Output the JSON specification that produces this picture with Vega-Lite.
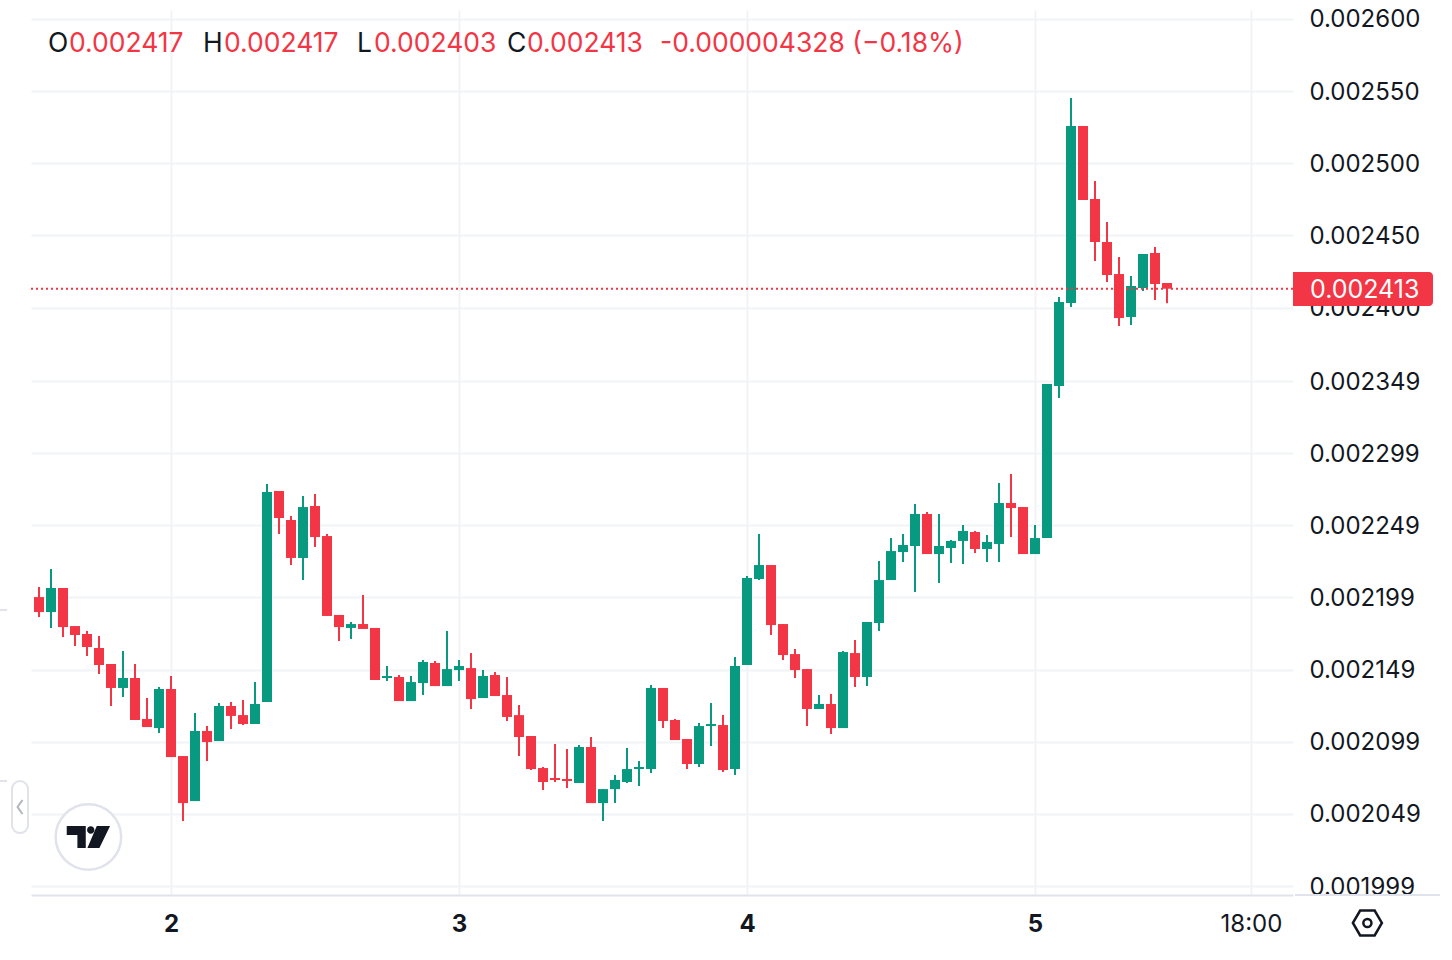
{
  "$schema": "https://vega.github.io/schema/vega-lite/v6.json",
  "width": 1262,
  "height": 885,
  "padding": {"left": 31, "top": 10, "right": 159, "bottom": 65},
  "autosize": "none",
  "background": "#ffffff",
  "config": {"font": "Inter", "view": {"stroke": null}},
  "datasets": {
    "candles": [
      {"t":"2024-05-01T13:00:00Z","o":0.0021993,"h":0.0022063,"l":0.0021855,"c":0.0021889},
      {"t":"2024-05-01T14:00:00Z","o":0.0021889,"h":0.0022187,"l":0.0021779,"c":0.0022056},
      {"t":"2024-05-01T15:00:00Z","o":0.0022056,"h":0.0022056,"l":0.0021716,"c":0.0021785},
      {"t":"2024-05-01T16:00:00Z","o":0.0021792,"h":0.0021792,"l":0.0021654,"c":0.0021730},
      {"t":"2024-05-01T17:00:00Z","o":0.0021737,"h":0.0021758,"l":0.0021584,"c":0.0021647},
      {"t":"2024-05-01T18:00:00Z","o":0.0021640,"h":0.0021723,"l":0.0021460,"c":0.0021522},
      {"t":"2024-05-01T19:00:00Z","o":0.0021529,"h":0.0021529,"l":0.0021238,"c":0.0021363},
      {"t":"2024-05-01T20:00:00Z","o":0.0021363,"h":0.0021619,"l":0.0021300,"c":0.0021432},
      {"t":"2024-05-01T21:00:00Z","o":0.0021432,"h":0.0021529,"l":0.0021141,"c":0.0021141},
      {"t":"2024-05-01T22:00:00Z","o":0.0021148,"h":0.0021293,"l":0.0021092,"c":0.0021092},
      {"t":"2024-05-01T23:00:00Z","o":0.0021085,"h":0.0021370,"l":0.0021051,"c":0.0021356},
      {"t":"2024-05-02T00:00:00Z","o":0.0021356,"h":0.0021446,"l":0.0020884,"c":0.0020884},
      {"t":"2024-05-02T01:00:00Z","o":0.0020891,"h":0.0020891,"l":0.0020441,"c":0.0020565},
      {"t":"2024-05-02T02:00:00Z","o":0.0020579,"h":0.0021189,"l":0.0020579,"c":0.0021065},
      {"t":"2024-05-02T03:00:00Z","o":0.0021065,"h":0.0021099,"l":0.0020857,"c":0.0020988},
      {"t":"2024-05-02T04:00:00Z","o":0.0020995,"h":0.0021259,"l":0.0020995,"c":0.0021238},
      {"t":"2024-05-02T05:00:00Z","o":0.0021238,"h":0.0021266,"l":0.0021078,"c":0.0021169},
      {"t":"2024-05-02T06:00:00Z","o":0.0021175,"h":0.0021279,"l":0.0021106,"c":0.0021113},
      {"t":"2024-05-02T07:00:00Z","o":0.0021113,"h":0.0021404,"l":0.0021113,"c":0.0021252},
      {"t":"2024-05-02T08:00:00Z","o":0.0021266,"h":0.0022777,"l":0.0021266,"c":0.0022721},
      {"t":"2024-05-02T09:00:00Z","o":0.0022728,"h":0.0022728,"l":0.0022430,"c":0.0022541},
      {"t":"2024-05-02T10:00:00Z","o":0.0022527,"h":0.0022555,"l":0.0022215,"c":0.0022264},
      {"t":"2024-05-02T11:00:00Z","o":0.0022264,"h":0.0022694,"l":0.0022111,"c":0.0022617},
      {"t":"2024-05-02T12:00:00Z","o":0.0022624,"h":0.0022707,"l":0.0022340,"c":0.0022409},
      {"t":"2024-05-02T13:00:00Z","o":0.0022416,"h":0.0022430,"l":0.0021862,"c":0.0021862},
      {"t":"2024-05-02T14:00:00Z","o":0.0021869,"h":0.0021869,"l":0.0021688,"c":0.0021785},
      {"t":"2024-05-02T15:00:00Z","o":0.0021779,"h":0.0021820,"l":0.0021702,"c":0.0021806},
      {"t":"2024-05-02T16:00:00Z","o":0.0021806,"h":0.0022007,"l":0.0021772,"c":0.0021772},
      {"t":"2024-05-02T17:00:00Z","o":0.0021779,"h":0.0021779,"l":0.0021418,"c":0.0021418},
      {"t":"2024-05-02T18:00:00Z","o":0.0021432,"h":0.0021515,"l":0.0021411,"c":0.0021446},
      {"t":"2024-05-02T19:00:00Z","o":0.0021439,"h":0.0021453,"l":0.0021272,"c":0.0021272},
      {"t":"2024-05-02T20:00:00Z","o":0.0021272,"h":0.0021446,"l":0.0021272,"c":0.0021404},
      {"t":"2024-05-02T21:00:00Z","o":0.0021397,"h":0.0021557,"l":0.0021314,"c":0.0021543},
      {"t":"2024-05-02T22:00:00Z","o":0.0021536,"h":0.0021550,"l":0.0021376,"c":0.0021376},
      {"t":"2024-05-02T23:00:00Z","o":0.0021376,"h":0.0021758,"l":0.0021376,"c":0.0021494},
      {"t":"2024-05-03T00:00:00Z","o":0.0021487,"h":0.0021557,"l":0.0021411,"c":0.0021515},
      {"t":"2024-05-03T01:00:00Z","o":0.0021501,"h":0.0021605,"l":0.0021217,"c":0.0021286},
      {"t":"2024-05-03T02:00:00Z","o":0.0021293,"h":0.0021487,"l":0.0021293,"c":0.0021446},
      {"t":"2024-05-03T03:00:00Z","o":0.0021453,"h":0.0021474,"l":0.0021307,"c":0.0021307},
      {"t":"2024-05-03T04:00:00Z","o":0.0021314,"h":0.0021439,"l":0.0021134,"c":0.0021162},
      {"t":"2024-05-03T05:00:00Z","o":0.0021175,"h":0.0021245,"l":0.0020891,"c":0.0021023},
      {"t":"2024-05-03T06:00:00Z","o":0.0021030,"h":0.0021030,"l":0.0020794,"c":0.0020801},
      {"t":"2024-05-03T07:00:00Z","o":0.0020808,"h":0.0020815,"l":0.0020656,"c":0.0020711},
      {"t":"2024-05-03T08:00:00Z","o":0.0020739,"h":0.0020974,"l":0.0020711,"c":0.0020725},
      {"t":"2024-05-03T09:00:00Z","o":0.0020732,"h":0.0020940,"l":0.0020669,"c":0.0020718},
      {"t":"2024-05-03T10:00:00Z","o":0.0020704,"h":0.0020967,"l":0.0020704,"c":0.0020954},
      {"t":"2024-05-03T11:00:00Z","o":0.0020954,"h":0.0021023,"l":0.0020565,"c":0.0020565},
      {"t":"2024-05-03T12:00:00Z","o":0.0020565,"h":0.0020662,"l":0.0020441,"c":0.0020662},
      {"t":"2024-05-03T13:00:00Z","o":0.0020662,"h":0.0020760,"l":0.0020565,"c":0.0020725},
      {"t":"2024-05-03T14:00:00Z","o":0.0020711,"h":0.0020947,"l":0.0020704,"c":0.0020801},
      {"t":"2024-05-03T15:00:00Z","o":0.0020801,"h":0.0020857,"l":0.0020683,"c":0.0020815},
      {"t":"2024-05-03T16:00:00Z","o":0.0020801,"h":0.0021383,"l":0.0020773,"c":0.0021363},
      {"t":"2024-05-03T17:00:00Z","o":0.0021363,"h":0.0021363,"l":0.0021085,"c":0.0021134},
      {"t":"2024-05-03T18:00:00Z","o":0.0021141,"h":0.0021148,"l":0.0021002,"c":0.0021002},
      {"t":"2024-05-03T19:00:00Z","o":0.0021009,"h":0.0021009,"l":0.0020801,"c":0.0020836},
      {"t":"2024-05-03T20:00:00Z","o":0.0020836,"h":0.0021120,"l":0.0020815,"c":0.0021099},
      {"t":"2024-05-03T21:00:00Z","o":0.0021099,"h":0.0021259,"l":0.0020961,"c":0.0021113},
      {"t":"2024-05-03T22:00:00Z","o":0.0021106,"h":0.0021175,"l":0.0020780,"c":0.0020794},
      {"t":"2024-05-03T23:00:00Z","o":0.0020801,"h":0.0021577,"l":0.0020760,"c":0.0021515},
      {"t":"2024-05-04T00:00:00Z","o":0.0021522,"h":0.0022139,"l":0.0021522,"c":0.0022125},
      {"t":"2024-05-04T01:00:00Z","o":0.0022118,"h":0.0022430,"l":0.0022111,"c":0.0022215},
      {"t":"2024-05-04T02:00:00Z","o":0.0022215,"h":0.0022215,"l":0.0021730,"c":0.0021799},
      {"t":"2024-05-04T03:00:00Z","o":0.0021806,"h":0.0021806,"l":0.0021557,"c":0.0021591},
      {"t":"2024-05-04T04:00:00Z","o":0.0021598,"h":0.0021633,"l":0.0021432,"c":0.0021487},
      {"t":"2024-05-04T05:00:00Z","o":0.0021494,"h":0.0021494,"l":0.0021099,"c":0.0021217},
      {"t":"2024-05-04T06:00:00Z","o":0.0021217,"h":0.0021314,"l":0.0021217,"c":0.0021252},
      {"t":"2024-05-04T07:00:00Z","o":0.0021252,"h":0.0021321,"l":0.0021044,"c":0.0021085},
      {"t":"2024-05-04T08:00:00Z","o":0.0021085,"h":0.0021619,"l":0.0021085,"c":0.0021612},
      {"t":"2024-05-04T09:00:00Z","o":0.0021605,"h":0.0021695,"l":0.0021370,"c":0.0021439},
      {"t":"2024-05-04T10:00:00Z","o":0.0021439,"h":0.0021820,"l":0.0021376,"c":0.0021820},
      {"t":"2024-05-04T11:00:00Z","o":0.0021813,"h":0.0022243,"l":0.0021758,"c":0.0022111},
      {"t":"2024-05-04T12:00:00Z","o":0.0022111,"h":0.0022402,"l":0.0022111,"c":0.0022312},
      {"t":"2024-05-04T13:00:00Z","o":0.0022305,"h":0.0022430,"l":0.0022236,"c":0.0022354},
      {"t":"2024-05-04T14:00:00Z","o":0.0022347,"h":0.0022638,"l":0.0022028,"c":0.0022569},
      {"t":"2024-05-04T15:00:00Z","o":0.0022569,"h":0.0022583,"l":0.0022291,"c":0.0022291},
      {"t":"2024-05-04T16:00:00Z","o":0.0022291,"h":0.0022569,"l":0.0022090,"c":0.0022347},
      {"t":"2024-05-04T17:00:00Z","o":0.0022333,"h":0.0022389,"l":0.0022229,"c":0.0022382},
      {"t":"2024-05-04T18:00:00Z","o":0.0022382,"h":0.0022493,"l":0.0022222,"c":0.0022451},
      {"t":"2024-05-04T19:00:00Z","o":0.0022444,"h":0.0022451,"l":0.0022298,"c":0.0022326},
      {"t":"2024-05-04T20:00:00Z","o":0.0022326,"h":0.0022423,"l":0.0022236,"c":0.0022375},
      {"t":"2024-05-04T21:00:00Z","o":0.0022361,"h":0.0022784,"l":0.0022236,"c":0.0022645},
      {"t":"2024-05-04T22:00:00Z","o":0.0022645,"h":0.0022846,"l":0.0022409,"c":0.0022610},
      {"t":"2024-05-04T23:00:00Z","o":0.0022617,"h":0.0022617,"l":0.0022291,"c":0.0022291},
      {"t":"2024-05-05T00:00:00Z","o":0.0022291,"h":0.0022493,"l":0.0022291,"c":0.0022402},
      {"t":"2024-05-05T01:00:00Z","o":0.0022402,"h":0.0023470,"l":0.0022402,"c":0.0023470},
      {"t":"2024-05-05T02:00:00Z","o":0.0023456,"h":0.0024073,"l":0.0023373,"c":0.0024038},
      {"t":"2024-05-05T03:00:00Z","o":0.0024031,"h":0.0025452,"l":0.0024004,"c":0.0025258},
      {"t":"2024-05-05T04:00:00Z","o":0.0025258,"h":0.0025258,"l":0.0024745,"c":0.0024745},
      {"t":"2024-05-05T05:00:00Z","o":0.0024752,"h":0.0024877,"l":0.0024323,"c":0.0024454},
      {"t":"2024-05-05T06:00:00Z","o":0.0024454,"h":0.0024593,"l":0.0024177,"c":0.0024225},
      {"t":"2024-05-05T07:00:00Z","o":0.0024232,"h":0.0024350,"l":0.0023872,"c":0.0023927},
      {"t":"2024-05-05T08:00:00Z","o":0.0023934,"h":0.0024219,"l":0.0023879,"c":0.0024149},
      {"t":"2024-05-05T09:00:00Z","o":0.0024135,"h":0.0024371,"l":0.0024115,"c":0.0024371},
      {"t":"2024-05-05T10:00:00Z","o":0.0024378,"h":0.0024420,"l":0.0024052,"c":0.0024163},
      {"t":"2024-05-05T11:00:00Z","o":0.002417,"h":0.002417,"l":0.002403,"c":0.002413}
    ],
    "header": [
      {"t":"2024-05-01T13:45:00Z","p":0.0025834,"label":"O","color":"#131722"},
      {"t":"2024-05-01T15:30:00Z","p":0.0025834,"label":"0.002417","color":"#f23645"},
      {"t":"2024-05-02T02:40:00Z","p":0.0025834,"label":"H","color":"#131722"},
      {"t":"2024-05-02T04:25:00Z","p":0.0025834,"label":"0.002417","color":"#f23645"},
      {"t":"2024-05-02T15:30:00Z","p":0.0025834,"label":"L","color":"#131722"},
      {"t":"2024-05-02T16:55:00Z","p":0.0025834,"label":"0.002403","color":"#f23645"},
      {"t":"2024-05-03T04:00:00Z","p":0.0025834,"label":"C","color":"#131722"},
      {"t":"2024-05-03T05:40:00Z","p":0.0025834,"label":"0.002413","color":"#f23645"},
      {"t":"2024-05-03T16:45:00Z","p":0.0025834,"label":"-0.000004328 (−0.18%)","color":"#f23645"}
    ]
  },
  "layer": [
    {
      "data": {"name": "candles"},
      "mark": {"type": "rule", "strokeWidth": 2},
      "encoding": {
        "x": {
          "field": "t",
          "type": "temporal",
          "scale": {"type": "utc", "padding": 0, "domain": ["2024-05-01T12:20:00Z", "2024-05-05T21:30:00Z"]},
          "axis": {
            "title": null,
            "values": [1714608000000, 1714694400000, 1714780800000, 1714867200000, 1714932000000],
            "labelExpr": "utchours(datum.value) == 0 ? utcdate(datum.value) + '' : '18:00'",
            "labelFontWeight": {"condition": {"test": "utchours(datum.value) == 0", "value": 700}, "value": 400},
            "labelFontSize": 24,
            "labelColor": "#131722",
            "labelPadding": 17,
            "labelOverlap": false,
            "labelFlush": false,
            "ticks": false,
            "grid": true,
            "gridColor": "#f2f3f5",
            "gridWidth": 2,
            "domainColor": "#e0e3eb",
            "domainWidth": 2
          }
        },
        "y": {
          "field": "l",
          "type": "quantitative",
          "scale": {"domain": [0.0019928, 0.0026062], "nice": false, "zero": false},
          "axis": {
            "title": null,
            "orient": "right",
            "values": [0.0026, 0.00255, 0.0025, 0.00245, 0.0024, 0.002349, 0.002299, 0.002249, 0.002199, 0.002149, 0.002099, 0.002049, 0.001999],
            "format": ".6f",
            "labelFontSize": 24,
            "labelColor": "#131722",
            "labelPadding": 16,
            "labelOffset": 1,
            "labelAlign": "left",
            "labelOverlap": false,
            "labelBound": false,
            "ticks": false,
            "domain": false,
            "grid": true,
            "gridColor": "#f2f3f5",
            "gridWidth": 2
          }
        },
        "y2": {"field": "h"},
        "color": {"condition": {"test": "datum.c >= datum.o", "value": "#089981"}, "value": "#f23645"}
      }
    },
    {
      "data": {"name": "candles"},
      "mark": {"type": "bar", "size": 10},
      "encoding": {
        "x": {"field": "t", "type": "temporal"},
        "y": {"field": "o", "type": "quantitative"},
        "y2": {"field": "c"},
        "color": {"condition": {"test": "datum.c >= datum.o", "value": "#089981"}, "value": "#f23645"}
      }
    },
    {
      "data": {"values": [{"p": 0.002413}]},
      "mark": {"type": "rule", "color": "#f23645", "strokeWidth": 2, "strokeDash": [2, 3]},
      "encoding": {"y": {"field": "p", "type": "quantitative"}}
    },
    {
      "data": {"values": [
        {"t": "2024-05-05T21:40:00Z", "t2": "2024-05-06T09:45:00Z", "p": 0.0019928},
        {"t": "2024-05-01T09:45:00Z", "t2": "2024-05-01T10:20:00Z", "p": 0.0021903},
        {"t": "2024-05-01T09:45:00Z", "t2": "2024-05-01T10:20:00Z", "p": 0.0020718}
      ]},
      "mark": {"type": "rule", "color": "#e0e3eb", "strokeWidth": 2},
      "encoding": {
        "x": {"field": "t", "type": "temporal"},
        "x2": {"field": "t2"},
        "y": {"field": "p", "type": "quantitative"}
      }
    },
    {
      "data": {"values": [{"t": "2024-05-05T21:30:00Z", "t2": "2024-05-06T09:10:00Z", "p": 0.0024246, "p2": 0.0024011}]},
      "mark": {"type": "rect", "color": "#f23645", "cornerRadiusTopRight": 4, "cornerRadiusBottomRight": 4},
      "encoding": {
        "x": {"field": "t", "type": "temporal"},
        "x2": {"field": "t2"},
        "y": {"field": "p", "type": "quantitative"},
        "y2": {"field": "p2"}
      }
    },
    {
      "data": {"values": [{"t": "2024-05-05T22:55:00Z", "p": 0.002413, "label": "0.002413"}]},
      "mark": {"type": "text", "align": "left", "baseline": "middle", "fontSize": 25, "dy": 1.5, "color": "#ffffff"},
      "encoding": {
        "x": {"field": "t", "type": "temporal"},
        "y": {"field": "p", "type": "quantitative"},
        "text": {"field": "label"}
      }
    },
    {
      "data": {"name": "header"},
      "mark": {"type": "text", "align": "left", "baseline": "middle", "fontSize": 26.5, "dy": 1.5},
      "encoding": {
        "x": {"field": "t", "type": "temporal"},
        "y": {"field": "p", "type": "quantitative"},
        "text": {"field": "label"},
        "color": {"field": "color", "type": "nominal", "scale": null}
      }
    },
    {
      "data": {"values": [{"t": "2024-05-01T10:45:00Z", "t2": "2024-05-01T12:05:00Z", "p": 0.0020718, "p2": 0.0020357}]},
      "mark": {"type": "rect", "fill": "#ffffff", "stroke": "#e0e3eb", "strokeWidth": 2, "cornerRadius": 8},
      "encoding": {
        "x": {"field": "t", "type": "temporal"},
        "x2": {"field": "t2"},
        "y": {"field": "p", "type": "quantitative"},
        "y2": {"field": "p2"}
      }
    },
    {
      "data": {"values": [{"t": "2024-05-01T11:25:00Z", "p": 0.0020538}]},
      "mark": {"type": "point", "shape": "M0.35 -1L-0.35 0L0.35 1", "size": 196, "filled": false, "stroke": "#b2b5be", "strokeWidth": 2, "opacity": 1},
      "encoding": {
        "x": {"field": "t", "type": "temporal"},
        "y": {"field": "p", "type": "quantitative"}
      }
    },
    {
      "data": {"values": [{"t": "2024-05-01T17:07:00Z", "p": 0.002033}]},
      "mark": {"type": "point", "shape": "circle", "size": 4290, "filled": true, "fill": "#ffffff", "stroke": "#e0e3eb", "strokeWidth": 2.5, "opacity": 1},
      "encoding": {
        "x": {"field": "t", "type": "temporal"},
        "y": {"field": "p", "type": "quantitative"}
      }
    },
    {
      "data": {"values": [{"t": "2024-05-01T17:07:00Z", "p": 0.002033}]},
      "mark": {"type": "point", "shape": "M-0.985 -0.5L-0.12 -0.5L-0.12 0.5L-0.5 0.5L-0.5 -0.09L-0.985 -0.09ZM-0.061 -0.318a0.167 0.167 0 1 0 0.334 0a0.167 0.167 0 1 0 -0.334 0ZM0.38 -0.5L0.985 -0.5L0.5 0.5L-0.045 0.5Z", "size": 1936, "filled": true, "color": "#131722", "opacity": 1},
      "encoding": {
        "x": {"field": "t", "type": "temporal"},
        "y": {"field": "p", "type": "quantitative"}
      }
    },
    {
      "data": {"values": [{"t": "2024-05-06T03:42:00Z", "p": 0.0019734}]},
      "mark": {"type": "point", "shape": "M-1 0L-0.5 -0.86L0.5 -0.86L1 0L0.5 0.86L-0.5 0.86ZM0.28 0a0.28 0.28 0 1 1 -0.56 0a0.28 0.28 0 1 1 0.56 0Z", "size": 841, "filled": false, "stroke": "#131722", "strokeWidth": 2.5, "opacity": 1},
      "encoding": {
        "x": {"field": "t", "type": "temporal"},
        "y": {"field": "p", "type": "quantitative"}
      }
    }
  ]
}
